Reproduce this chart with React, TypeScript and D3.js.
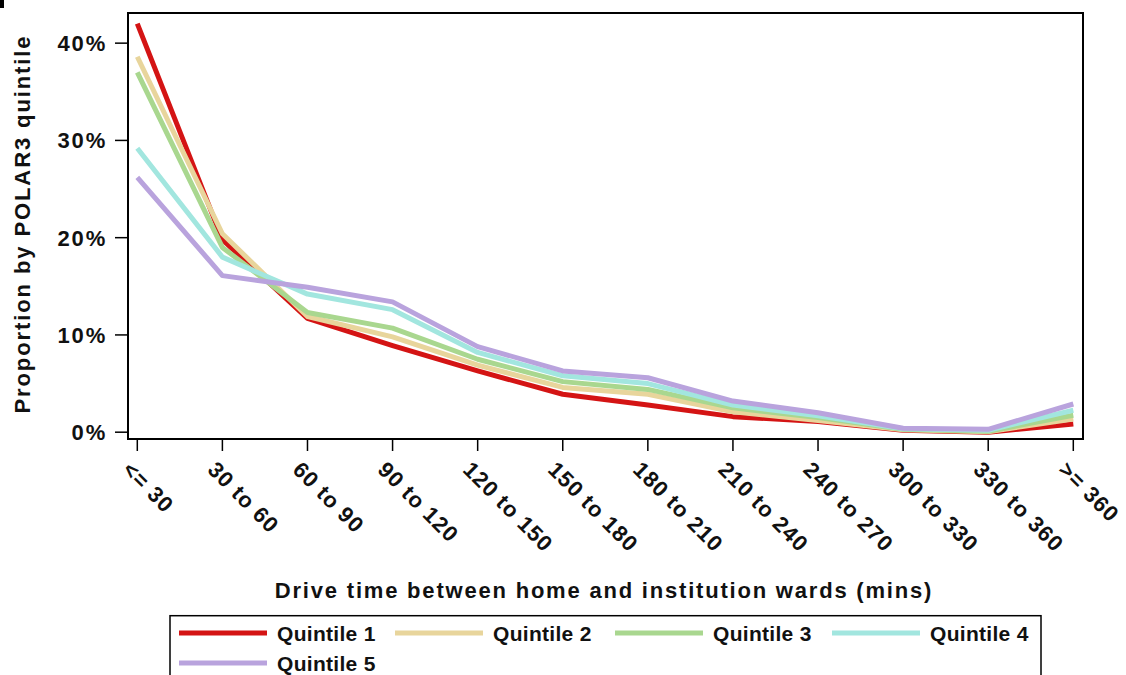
import React from "react";
import * as d3 from "d3";

const categories = ["<= 30", "30 to 60", "60 to 90", "90 to 120", "120 to 150", "150 to 180", "180 to 210", "210 to 240", "240 to 270", "300 to 330", "330 to 360", ">= 360"];
const seriesNames = ["Quintile 1", "Quintile 2", "Quintile 3", "Quintile 4", "Quintile 5"];
const q1 = [42.0, 19.8, 11.7, 8.9, 6.3, 3.9, 2.8, 1.6, 1.1, 0.2, 0.0, 0.85];
const q2 = [38.6, 20.4, 11.9, 9.8, 6.9, 4.6, 3.9, 2.1, 1.2, 0.25, 0.05, 1.35];
const q3 = [37.0, 19.0, 12.3, 10.7, 7.5, 5.2, 4.4, 2.5, 1.5, 0.3, 0.1, 1.75];
const q4 = [29.2, 18.0, 14.2, 12.6, 8.2, 5.8, 5.0, 2.8, 1.7, 0.35, 0.2, 2.25];
const q5 = [26.2, 16.1, 14.9, 13.4, 8.8, 6.3, 5.6, 3.2, 2.0, 0.4, 0.3, 2.9];
const seriesValues = [q1, q2, q3, q4, q5];
const colors = ["#d41414", "#e8d59c", "#a9d78f", "#a2e6df", "#b9a3dd"];
const yTicks = [0, 10, 20, 30, 40];

const FONT = "'Liberation Sans', Arial, sans-serif";

export default function App() {
  const left = 128, right = 1083, top = 13, bottom = 439;
  const x = d3.scalePoint<string>().domain(categories).range([137.3, 1073.3]);
  const y = d3.scaleLinear().domain([-0.7, 43.1]).range([bottom, top]);
  const line = d3.line<number>().x((_, i) => x(categories[i]) as number).y((v) => y(v));

  const legendCols = [179, 395, 615, 832];
  const legendRows = [633, 663];

  return (
    <svg width={1126} height={675} style={{ position: "absolute", left: 0, top: 0, background: "#fff" }}>
      <rect x={0} y={0} width={1126} height={675} fill="#fff" />
      <rect x={0} y={0} width={4} height={8} fill="#000" />
      {/* y ticks */}
      {yTicks.map((t) => (
        <g key={t}>
          <line x1={115} x2={left} y1={y(t)} y2={y(t)} stroke="#000" strokeWidth={1.5} />
          <text x={107} y={y(t)} dy="0.36em" textAnchor="end" fontFamily={FONT} fontWeight="bold" fontSize={22} letterSpacing={1.8} fill="#111">{`${t}%`}</text>
        </g>
      ))}
      {/* x ticks */}
      {categories.map((c) => (
        <g key={c}>
          <line x1={x(c)} x2={x(c)} y1={bottom} y2={451} stroke="#000" strokeWidth={1.5} />
          <text transform={`translate(${(x(c) as number) - 16},${471}) rotate(45)`} fontFamily={FONT} fontWeight="bold" fontSize={22} letterSpacing={1.0} fill="#111">{c}</text>
        </g>
      ))}
      {/* lines */}
      <defs>
        <clipPath id="plotclip">
          <rect x={left} y={top} width={right - left} height={bottom - top} />
        </clipPath>
      </defs>
      <g clipPath="url(#plotclip)">
        {seriesValues.map((vals, i) => (
          <path key={i} d={line(vals) || ""} fill="none" stroke={colors[i]} strokeWidth={5} strokeLinejoin="round" />
        ))}
      </g>
      <rect x={left} y={top} width={right - left} height={bottom - top} fill="none" stroke="#000" strokeWidth={2} />
      {/* axis titles */}
      <text x={604} y={598} textAnchor="middle" fontFamily={FONT} fontWeight="bold" fontSize={22} letterSpacing={1.8} fill="#111">Drive time between home and institution wards (mins)</text>
      <text transform={`translate(30,224) rotate(-90)`} textAnchor="middle" fontFamily={FONT} fontWeight="bold" fontSize={22} letterSpacing={1.9} fill="#111">Proportion by POLAR3 quintile</text>
      {/* legend */}
      <rect x={170} y={615.7} width={871} height={70} fill="none" stroke="#000" strokeWidth={1.5} />
      {seriesNames.map((name, i) => {
        const cx = legendCols[i % 4];
        const cy = legendRows[Math.floor(i / 4)];
        return (
          <g key={name}>
            <line x1={cx} x2={cx + 88} y1={cy} y2={cy} stroke={colors[i]} strokeWidth={5} />
            <text x={cx + 98} y={cy} dy="0.36em" fontFamily={FONT} fontWeight="bold" fontSize={21} letterSpacing={0.3} fill="#111">{name}</text>
          </g>
        );
      })}
    </svg>
  );
}
